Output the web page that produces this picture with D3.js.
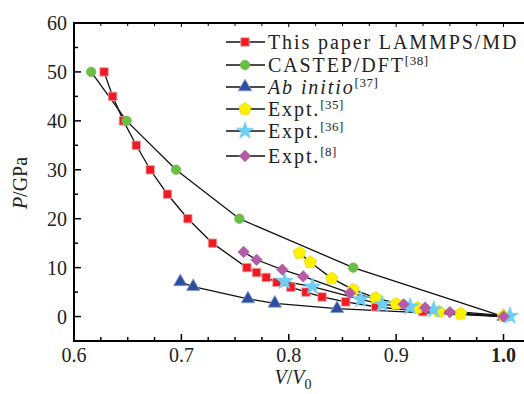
<!DOCTYPE html>
<html>
<head>
<meta charset="utf-8">
<script src="https://cdn.jsdelivr.net/npm/d3@7"></script>
<style>
body { margin: 0; background: #fff; }
svg text { font-family: "Liberation Serif", "Times New Roman", serif; fill: #222; }
</style>
</head>
<body>
<div id="chart"></div>
<script>
// This paper LAMMPS/MD
var vMD = [0.628, 0.636, 0.646, 0.658, 0.671, 0.687, 0.706, 0.729, 0.761, 0.770, 0.779, 0.789, 0.802, 0.816, 0.831, 0.853, 0.881, 0.925, 1.0];
var pMD = [50, 45, 40, 35, 30, 25, 20, 15, 10, 9, 8, 7, 6, 5, 4, 3, 2, 1, 0];
// CASTEP/DFT [38]
var vDFT = [0.616, 0.649, 0.695, 0.754, 0.860, 1.0];
var pDFT = [50, 40, 30, 20, 10, 0];
// Ab initio [37]
var vAb = [0.699, 0.711, 0.762, 0.787, 0.845, 1.0];
var pAb = [7.1, 6.1, 3.6, 2.7, 1.6, 0];
// Expt. [35]
var vE35 = [0.810, 0.820, 0.840, 0.860, 0.881, 0.900, 0.920, 0.940, 0.960, 1.0];
var pE35 = [13.0, 11.1, 7.8, 5.5, 3.8, 2.6, 1.8, 1.0, 0.55, 0.1];
// Expt. [36]
var vE36 = [0.796, 0.822, 0.867, 0.887, 0.913, 0.935, 1.006];
var pE36 = [7.2, 6.1, 3.5, 2.5, 2.0, 1.4, 0.1];
// Expt. [8]
var vE8 = [0.758, 0.770, 0.794, 0.8135, 0.857, 0.907, 0.927, 0.950, 1.0];
var pE8 = [13.2, 11.6, 9.6, 8.2, 4.8, 2.5, 1.8, 0.9, 0];

var xTicks = [0.6, 0.7, 0.8, 0.9, 1.0];
var yTicks = [0, 10, 20, 30, 40, 50, 60];

var W = 524, H = 394;
var svg = d3.select("#chart").append("svg")
    .attr("width", W)
    .attr("height", H);

var x = d3.scaleLinear().domain([0.6, 1.02]).range([74, 525]);
var y = d3.scaleLinear().domain([-5, 60]).range([341, 23]);

function pentagon(r) {
    var pts = [];
    for (var i = 0; i < 5; i++) {
        var a = -Math.PI / 2 + i * 2 * Math.PI / 5;
        pts.push([r * Math.cos(a), r * Math.sin(a)]);
    }
    return "M" + pts.join("L") + "Z";
}

var series = [
    {name: "md", v: vMD, p: pMD, color: "#ed1c24", stroke: "#f7a1a4", shape: d3.symbol(d3.symbolSquare, 72)(), rot: 0},
    {name: "dft", v: vDFT, p: pDFT, color: "#6abd45", stroke: "#6abd45", shape: d3.symbol(d3.symbolCircle, 70)(), rot: 0},
    {name: "ab", v: vAb, p: pAb, color: "#2e4f9f", stroke: "#8a9bd0", shape: d3.symbol(d3.symbolTriangle, 78)(), rot: 0},
    {name: "e35", v: vE35, p: pE35, color: "#fff200", stroke: "#e8dc00", shape: pentagon(6.5), rot: 0},
    {name: "e36", v: vE36, p: pE36, color: "#6dcff6", stroke: "#6dcff6", shape: d3.symbol(d3.symbolStar, 90)(), rot: 0},
    {name: "e8", v: vE8, p: pE8, color: "#b55aa6", stroke: "#b55aa6", shape: d3.symbol(d3.symbolSquare, 64)(), rot: 45}
];

// minor ticks
var xMinor = d3.range(0.6, 1.021, 0.025);
var yMinor = d3.range(-5, 60.1, 5);

var g = svg.append("g");

// box
g.append("line").attr("x1", 74).attr("x2", W).attr("y1", y(-5)).attr("y2", y(-5))
    .attr("stroke", "#000").attr("stroke-width", 2);
g.append("line").attr("x1", 74).attr("x2", W).attr("y1", y(60)).attr("y2", y(60))
    .attr("stroke", "#000").attr("stroke-width", 2);
g.append("line").attr("x1", 74).attr("x2", 74).attr("y1", y(-5) + 1).attr("y2", y(60) - 1)
    .attr("stroke", "#000").attr("stroke-width", 2);

g.selectAll(".xt").data(xMinor).enter().append("line")
    .attr("x1", function(d){ return x(d); })
    .attr("x2", function(d){ return x(d); })
    .attr("y1", y(-5))
    .attr("y2", function(d, i){ return y(-5) - (i % 4 == 0 ? 7 : 4); })
    .attr("stroke", "#000").attr("stroke-width", 1.5);
g.selectAll(".xtt").data(xMinor).enter().append("line")
    .attr("x1", function(d){ return x(d); })
    .attr("x2", function(d){ return x(d); })
    .attr("y1", y(60))
    .attr("y2", function(d, i){ return y(60) + (i % 4 == 0 ? 4 : 3); })
    .attr("stroke", "#000").attr("stroke-width", 1);
g.selectAll(".yt").data(yMinor).enter().append("line")
    .attr("x1", 74)
    .attr("x2", function(d){ return 74 + (d % 10 == 0 ? 7 : 4); })
    .attr("y1", function(d){ return y(d); })
    .attr("y2", function(d){ return y(d); })
    .attr("stroke", "#000").attr("stroke-width", 1.5);

svg.selectAll(".xl").data(xTicks).enter().append("text")
    .attr("x", function(d){ return x(d); })
    .attr("y", 362)
    .attr("text-anchor", "middle")
    .style("font-size", "20px")
    .style("font-weight", function(d){ return d == 1.0 ? "bold" : "normal"; })
    .text(function(d){ return d.toFixed(1); });

svg.selectAll(".yl").data(yTicks).enter().append("text")
    .attr("x", 67)
    .attr("y", function(d){ return y(d); })
    .attr("dy", "0.35em")
    .attr("text-anchor", "end")
    .style("font-size", "20px")
    .text(function(d){ return d; });

// axis titles
var xt = svg.append("text").attr("x", 293).attr("y", 384).attr("text-anchor", "middle").style("font-size", "20px");
xt.append("tspan").style("font-style", "italic").text("V");
xt.append("tspan").text("/");
xt.append("tspan").style("font-style", "italic").text("V");
xt.append("tspan").attr("dy", 5).style("font-size", "14px").text("0");

var yt = svg.append("text").attr("transform", "translate(27,183) rotate(-90)")
    .attr("text-anchor", "middle").style("font-size", "20px");
yt.append("tspan").style("font-style", "italic").text("P");
yt.append("tspan").text("/GPa");

// lines
var line = d3.line()
    .x(function(d){ return x(d[0]); })
    .y(function(d){ return y(d[1]); });

series.forEach(function(s) {
    svg.append("path")
        .datum(d3.zip(s.v, s.p))
        .attr("d", line)
        .attr("fill", "none")
        .attr("stroke", "#111")
        .attr("stroke-width", 1.3);
});

series.forEach(function(s) {
    svg.selectAll(".m-" + s.name)
        .data(d3.zip(s.v, s.p))
        .enter()
        .append("path")
        .attr("d", s.shape)
        .attr("transform", function(d){ return "translate(" + x(d[0]) + "," + y(d[1]) + ") rotate(" + s.rot + ")"; })
        .attr("fill", s.color)
        .attr("stroke", s.stroke)
        .attr("stroke-width", 0.8);
});

// legend
var legY = [42, 65, 87, 109, 131, 156];
var leg = svg.selectAll(".leg").data(series).enter().append("g")
    .attr("transform", function(d, i){ return "translate(0," + legY[i] + ")"; });
leg.append("line").attr("x1", 226).attr("x2", 265).attr("y1", 0).attr("y2", 0)
    .attr("stroke", "#111").attr("stroke-width", 1.3);
leg.append("path")
    .attr("d", function(d){ return d.shape; })
    .attr("transform", function(d){ return "translate(245,0) rotate(" + d.rot + ")"; })
    .attr("fill", function(d){ return d.color; })
    .attr("stroke", function(d){ return d.stroke; })
    .attr("stroke-width", 0.8);

var labels = [
    [["This paper LAMMPS/MD", ""]],
    [["CASTEP/DFT", ""], ["[38]", "sup"]],
    [["Ab initio", "it"], ["[37]", "sup"]],
    [["Expt.", ""], ["[35]", "sup"]],
    [["Expt.", ""], ["[36]", "sup"]],
    [["Expt.", ""], ["[8]", "sup"]]
];
leg.each(function(d, i) {
    var t = d3.select(this).append("text")
        .attr("x", 268)
        .attr("y", 7)
        .style("font-size", "20px")
        .style("letter-spacing", "1.9px");
    labels[i].forEach(function(part) {
        var ts = t.append("tspan").text(part[0]);
        if (part[1] == "it") ts.style("font-style", "italic");
        if (part[1] == "sup") ts.attr("dy", -7).style("font-size", "13px").style("letter-spacing", "0.5px");
    });
});
</script>
</body>
</html>
